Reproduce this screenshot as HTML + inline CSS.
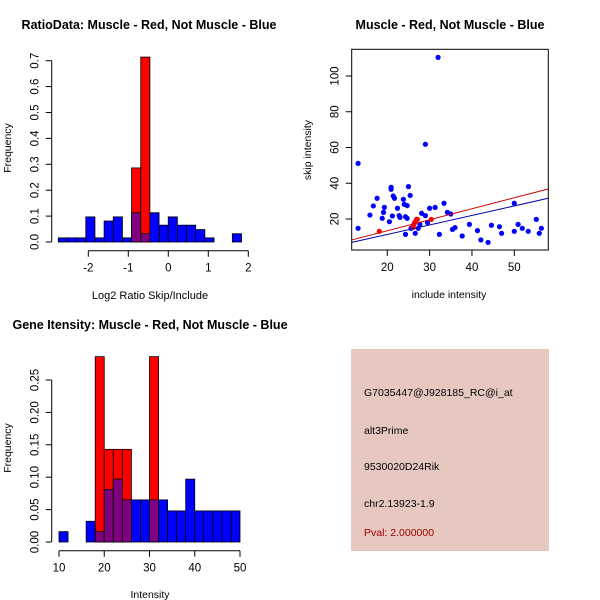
<!DOCTYPE html>
<html><head><meta charset="utf-8">
<style>
body{margin:0;background:#fff}
svg{display:block;font-family:"Liberation Sans",sans-serif}
</style></head>
<body>
<svg id="c" width="600" height="600" viewBox="0 0 600 600">
<rect width="600" height="600" fill="#fff"/>
</svg>
<script>
// ---- Histogram 1 data (log2 ratio) ----
const ratioBreakStart = -2.75;
const ratioBinWidth = 0.229;
const ratioBlue = [0.016,0.016,0.016,0.097,0.016,0.081,0.097,0.016,0.113,0.032,0.113,0.065,0.097,0.065,0.065,0.048,0.016,0,0,0.032];
const ratioRed  = [0,0,0,0,0,0,0,0,0.286,0.714,0,0,0,0,0,0,0,0,0,0];
const ratioXTicks = [-2,-1,0,1,2];
const ratioYTicks = [0,0.1,0.2,0.3,0.4,0.5,0.6,0.7];
const ratioYLabels = ["0.0","0.1","0.2","0.3","0.4","0.5","0.6","0.7"];
// ---- Scatter data ----
const blueX = [13.1,13.1,15.9,16.7,17.6,18.8,19.1,19.3,20.5,20.9,20.9,21.2,21.4,21.7,22.4,22.8,23.0,23.8,24.0,24.3,24.3,24.7,24.7,25.0,25.4,25.6,26.0,26.6,27.3,27.7,28.1,29.0,29.0,29.5,30.0,31.3,32.3,32.0,33.4,34.2,35.0,35.4,36.0,37.7,39.4,41.3,42.1,43.8,44.6,46.5,47.0,50.0,50.0,50.9,51.9,53.3,55.2,55.9,56.4];
const blueY = [51.1,14.8,22.2,27.3,31.6,20.4,23.7,26.5,18.5,37.7,36.6,21.7,32.9,31.6,26.0,21.9,20.9,31.0,28.2,11.4,21.3,27.5,20.4,38.1,33.2,14.8,15.7,12.0,14.8,17.0,23.2,21.9,61.8,18.0,26.0,26.5,11.4,110.4,28.8,23.7,22.8,14.2,15.2,10.5,17.0,13.5,8.3,6.9,16.5,15.7,12.0,28.8,13.1,17.0,14.8,13.1,19.8,12.0,14.8];
const redX = [18.1,26.3,26.5,26.9,27.1,30.4,26.1];
const redY = [13.1,17.0,18.1,19.8,19.8,19.8,15.3];
const redFit = [1.17,0.614];   // intercept, slope
const blueFit = [0.73,0.532];
const scXTicks = [20,30,40,50];
const scYTicks = [20,40,60,80,100];
// ---- Histogram 2 data (intensity) ----
const intBreakStart = 10;
const intBinWidth = 2;
const intBlue = [0.016,0,0,0.032,0.016,0.081,0.097,0.065,0.065,0.065,0.065,0.065,0.048,0.048,0.097,0.048,0.048,0.048,0.048,0.048];
const intRed  = [0,0,0,0,0.286,0.143,0.143,0.143,0,0,0.286,0,0,0,0,0,0,0,0,0];
const intXTicks = [10,20,30,40,50];
const intYTicks = [0,0.05,0.1,0.15,0.2,0.25];
const intYLabels = ["0.00","0.05","0.10","0.15","0.20","0.25"];

const svg = document.getElementById('c');
const NS = 'http://www.w3.org/2000/svg';
function mk(tag, attrs, parent){
  const e = document.createElementNS(NS, tag);
  for (const k in attrs) e.setAttribute(k, attrs[k]);
  (parent||svg).appendChild(e);
  return e;
}
function txt(s, x, y, opts, parent){
  const t = mk('text', Object.assign({x:x, y:y, 'font-size':11.5, 'text-anchor':'middle', fill:'#000'}, opts||{}), parent);
  t.textContent = s;
  return t;
}

function histogram(name, start, w, blue, red, xs, ys, yl, px0, px1, dx0, dx1, py0, py1, dy0, dy1, axisX, axisY){
  const g = mk('g', {});
  
  
  const X = v => px0 + (v-dx0)/(dx1-dx0)*(px1-px0);
  const Y = v => py0 + (v-dy0)/(dy1-dy0)*(py1-py0);
  for (let i=0;i<blue.length;i++){
    const a = start + i*w, b = a + w;
    const x = X(a), wd = X(b)-X(a);
    if (red[i] > 0){
      const r = mk('rect', {x:x, y:Y(red[i]), width:wd, height:Y(0)-Y(red[i]), fill:'#ff0000', stroke:'#000', 'stroke-width':0.8}, g);
      
      
    }
    if (blue[i] > 0){
      const col = red[i] > 0 ? '#800080' : '#0000ff';
      const h = red[i] > 0 ? Math.min(blue[i], red[i]) : blue[i];
      const r = mk('rect', {x:x, y:Y(h), width:wd, height:Y(0)-Y(h), fill:col, stroke:'#000', 'stroke-width':0.8}, g);
      
      
    }
  }
  mk('line', {x1:X(xs[0]), x2:X(xs[xs.length-1]), y1:axisY, y2:axisY, stroke:'#000'}, g);
  xs.forEach(v => {
    mk('line', {x1:X(v), x2:X(v), y1:axisY, y2:axisY+6, stroke:'#000'}, g);
    txt(String(v), X(v), axisY+21, {}, g);
  });
  mk('line', {x1:axisX, x2:axisX, y1:Y(ys[0]), y2:Y(ys[ys.length-1]), stroke:'#000'}, g);
  ys.forEach((v,i) => {
    mk('line', {x1:axisX, x2:axisX-6, y1:Y(v), y2:Y(v), stroke:'#000'}, g);
    txt(yl[i], axisX-13, Y(v), {transform:`rotate(-90 ${axisX-13} ${Y(v)})`}, g);
  });
  return g;
}

histogram('ratio-histogram', ratioBreakStart, ratioBinWidth, ratioBlue, ratioRed, ratioXTicks, ratioYTicks, ratioYLabels,
  88.3, 248.3, -2, 2, 242, 60.7, 0, 0.7, 51.7, 250.7);
let t;
t = txt('RatioData: Muscle - Red, Not Muscle - Blue', 149, 29, {'font-weight':'bold','font-size':12.5});
 
t = txt('Log2 Ratio Skip/Include', 150, 299, {'font-size':11});
 
t = txt('Frequency', 11, 148, {transform:'rotate(-90 11 148)', 'font-size':10.5});
 

(function(){
  const g = mk('g', {});
  
  
  const L=351.7, R=548.3, T=49.3, B=250;
  const X = v => 387.3 + (v-20)*4.233;
  const Y = v => 219 - (v-20)*1.7875;
  const xmin = 20 + (L-387.3)/4.233, xmax = 20 + (R-387.3)/4.233;
  const cp = mk('clipPath', {id:'scClip'}, g);
  mk('rect', {x:L, y:T, width:R-L, height:B-T}, cp);
  for (let i=0;i<blueX.length;i++){
    const c = mk('circle', {cx:X(blueX[i]), cy:Y(blueY[i]), r:2.6, fill:'#0000ff'}, g);
    
    
  }
  for (let i=0;i<redX.length;i++){
    const c = mk('circle', {cx:X(redX[i]), cy:Y(redY[i]), r:2.6, fill:'#ff0000'}, g);
    
    
  }
  const rl = mk('line', {x1:X(xmin), y1:Y(redFit[0]+redFit[1]*xmin), x2:X(xmax), y2:Y(redFit[0]+redFit[1]*xmax), stroke:'#cc0000', 'stroke-width':1, 'clip-path':'url(#scClip)'}, g);
  
  
  const bl = mk('line', {x1:X(xmin), y1:Y(blueFit[0]+blueFit[1]*xmin), x2:X(xmax), y2:Y(blueFit[0]+blueFit[1]*xmax), stroke:'#0000aa', 'stroke-width':1, 'clip-path':'url(#scClip)'}, g);
  
  
  mk('rect', {x:L, y:T, width:R-L, height:B-T, fill:'none', stroke:'#000'}, g);
  scXTicks.forEach(v => {
    mk('line', {x1:X(v), x2:X(v), y1:B, y2:B+6, stroke:'#000'}, g);
    txt(String(v), X(v), B+21, {}, g);
  });
  scYTicks.forEach(v => {
    mk('line', {x1:L, x2:L-6, y1:Y(v), y2:Y(v), stroke:'#000'}, g);
    txt(String(v), L-13, Y(v), {transform:`rotate(-90 ${L-13} ${Y(v)})`}, g);
  });
})();
t = txt('Muscle - Red, Not Muscle - Blue', 450, 29, {'font-weight':'bold','font-size':12.5});
 
t = txt('include intensity', 449, 298, {'font-size':10.5});
 
t = txt('skip intensity', 311, 150, {transform:'rotate(-90 311 150)', 'font-size':10.5});
 

histogram('intensity-histogram', intBreakStart, intBinWidth, intBlue, intRed, intXTicks, intYTicks, intYLabels,
  59, 240, 10, 50, 542, 380, 0, 0.25, 51.7, 550.7);
t = txt('Gene Itensity: Muscle - Red, Not Muscle - Blue', 150, 329, {'font-weight':'bold','font-size':12.5});
 
t = txt('Intensity', 150, 598, {'font-size':10.5});
 
t = txt('Frequency', 11, 448, {transform:'rotate(-90 11 448)', 'font-size':10.5});
 
</script>
<svg style="position:absolute;left:0;top:0" width="600" height="600">
  <rect x="351" y="349" width="198" height="202" fill="#e6c8c1"/>
  <g font-family="Liberation Sans, sans-serif" font-size="10.5">
    <text x="364" y="396" fill="#000">G7035447@J928185_RC@i_at</text>
    <text x="364" y="434" fill="#000">alt3Prime</text>
    <text x="364" y="470" fill="#000">9530020D24Rik</text>
    <text x="364" y="507" fill="#000">chr2.13923-1.9</text>
    <text x="364" y="536" fill="#a00000">Pval: 2.000000</text>
  </g>
</svg>
</body></html>
